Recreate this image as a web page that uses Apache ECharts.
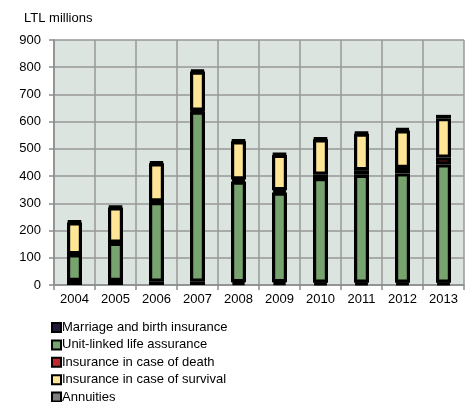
<!DOCTYPE html>
<html>
<head>
<meta charset="utf-8">
<script src="https://cdn.jsdelivr.net/npm/echarts@6/dist/echarts.min.js"></script>
<style>
  html, body { margin: 0; padding: 0; background: #fff; }
  #chart { width: 465px; height: 402px; }
</style>
</head>
<body>
<div id="chart"></div>
<script>
// Life insurance premiums by class, LTL millions
const years = ['2004', '2005', '2006', '2007', '2008', '2009', '2010', '2011', '2012', '2013'];
const marriageBirth = [15, 15, 12, 12, 10, 10, 8, 8, 8, 8];
const unitLinked = [98, 140, 293, 625, 370, 330, 385, 397, 402, 435];
const deathCover = [0, 0, 2, 3, 8, 8, 12, 17, 20, 25];
const survivalCover = [117, 130, 140, 144, 140, 130, 130, 134, 138, 145];
const annuities = [5, 5, 6, 6, 5, 5, 5, 5, 7, 12];
const yTicks = { min: 0, max: 900, step: 100 };

const FONT = "'Liberation Sans', Arial, sans-serif";

function stackSeries(name, data, color) {
  return {
    name: name,
    type: 'bar',
    stack: 'total',
    data: data,
    barWidth: 15,
    itemStyle: { color: color, borderColor: '#000', borderWidth: 3.2 },
    emphasis: { disabled: true }
  };
}

const chart = echarts.init(document.getElementById('chart'), null, { renderer: 'canvas' });
chart.setOption({
  animation: false,
  backgroundColor: '#fff',
  title: {
    text: 'LTL millions',
    left: 19,
    top: 7,
    textStyle: { fontFamily: FONT, fontSize: 13, fontWeight: 'normal', color: '#000' }
  },
  grid: {
    left: 54, right: 1, top: 40, bottom: 117,
    show: true, backgroundColor: '#dce4e0', borderWidth: 0
  },
  legend: {
    orient: 'vertical',
    left: 51,
    top: 321,
    height: 90,
    padding: 0,
    itemWidth: 9,
    itemHeight: 9,
    itemGap: 4.4,
    icon: 'rect',
    itemStyle: { borderColor: '#000', borderWidth: 2 },
    textStyle: { fontFamily: FONT, fontSize: 13, color: '#000', padding: [0, 0, 0, -4] },
    data: ['Marriage and birth insurance', 'Unit-linked life assurance',
           'Insurance in case of death', 'Insurance in case of survival', 'Annuities']
  },
  xAxis: {
    type: 'category',
    data: years,
    boundaryGap: true,
    axisLine: { show: true, lineStyle: { color: '#8c8c8c', width: 1.5 } },
    axisTick: { show: true, interval: 0, length: 5, lineStyle: { color: '#8c8c8c', width: 1.5 } },
    splitLine: { show: true, interval: 0, lineStyle: { color: '#999', width: 1.5 } },
    axisLabel: { fontFamily: FONT, fontSize: 13, color: '#000', margin: 8, interval: 0 }
  },
  yAxis: {
    type: 'value',
    min: yTicks.min,
    max: yTicks.max,
    interval: yTicks.step,
    axisLine: { show: true, lineStyle: { color: '#8c8c8c', width: 1.5 } },
    axisTick: { show: true, length: 5, lineStyle: { color: '#8c8c8c', width: 1.5 } },
    splitLine: { show: true, lineStyle: { color: '#999', width: 1.5 } },
    axisLabel: { fontFamily: FONT, fontSize: 13, color: '#000', margin: 13 }
  },
  series: [
    stackSeries('Marriage and birth insurance', marriageBirth, '#24183a'),
    stackSeries('Unit-linked life assurance', unitLinked, '#77a36e'),
    stackSeries('Insurance in case of death', deathCover, '#c1272d'),
    stackSeries('Insurance in case of survival', survivalCover, '#ffe697'),
    stackSeries('Annuities', annuities, '#7f7f7f')
  ]
});
</script>
</body>
</html>
